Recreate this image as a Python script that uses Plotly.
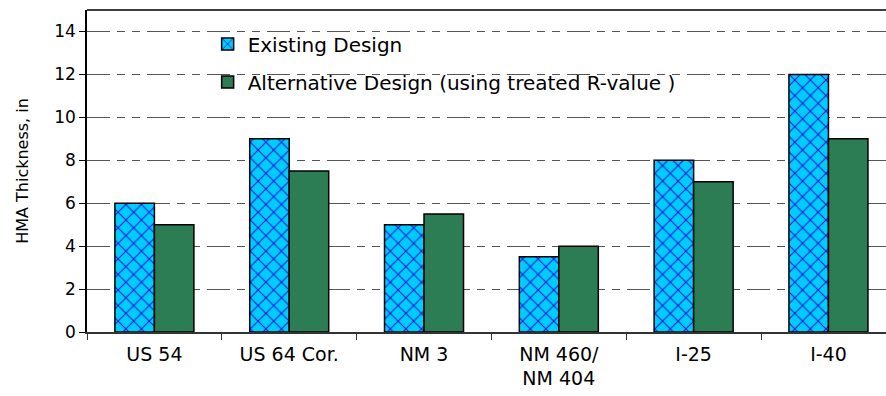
import plotly.graph_objects as go

roads = ['US 54', 'US 64 Cor.', 'NM 3', 'NM 460/<br>NM 404', 'I-25', 'I-40']
existing = [6, 9, 5, 3.5, 8, 12]
alternative = [5, 7.5, 5.5, 4, 7, 9]

font = 'DejaVu Sans, Arial, sans-serif'

fig = go.Figure()
fig.add_trace(go.Bar(
    x=roads, y=existing, name='Existing Design', legendgroup='a',
    marker=dict(color='#00CCFF', line=dict(color='black', width=1.5),
                pattern=dict(shape='x', fgcolor='#1414D8', bgcolor='#00CCFF',
                             size=11, solidity=0.18, fillmode='replace')),
))
fig.add_trace(go.Bar(
    x=roads, y=alternative, name='Alternative Design (using treated R-value )',
    legendgroup='b',
    marker=dict(color='#2C7D54', line=dict(color='black', width=1.5)),
))

# white box behind the legend hides the gridlines there
fig.add_shape(type='rect', xref='paper', yref='paper', x0=0.108, x1=0.827,
              y0=0.72, y1=0.965, fillcolor='white', line_width=0, layer='between')

fig.update_layout(
    width=886, height=396,
    margin=dict(l=87, r=0, t=10, b=64),
    paper_bgcolor='white', plot_bgcolor='white',
    font=dict(family=font, size=17, color='black'),
    barmode='group', bargap=0.414, bargroupgap=0,
    showlegend=True,
    legend=dict(x=0.151, y=0.955, xanchor='left', yanchor='top',
                bgcolor='rgba(0,0,0,0)', font=dict(size=20),
                tracegroupgap=9, itemwidth=30),
    xaxis=dict(range=[-0.5, 5.427], showline=True, linecolor='#333333',
               linewidth=1.5, ticks='outside', tickson='boundaries',
               ticklen=6, tickcolor='#333333', showgrid=False,
               ticklabelstandoff=4, tickfont=dict(size=19)),
    yaxis=dict(range=[0, 15], dtick=2, showline=True, linecolor='black',
               linewidth=1.5, ticks='outside', ticklen=6, tickcolor='black',
               showgrid=True, gridcolor='#555555', gridwidth=1,
               griddash='23px,7px,8px,7px,8px,7px', zeroline=False,
               tickfont=dict(size=17),
               title=dict(text='HMA Thickness, in', font=dict(size=16),
                          standoff=22)),
)
# top frame line
fig.add_shape(type='line', xref='paper', yref='paper', x0=0, x1=1, y0=1, y1=1,
              line=dict(color='black', width=1.5))

fig.write_html('out.html', config={'displayModeBar': False},
               post_script="document.body.style.margin='0';")
